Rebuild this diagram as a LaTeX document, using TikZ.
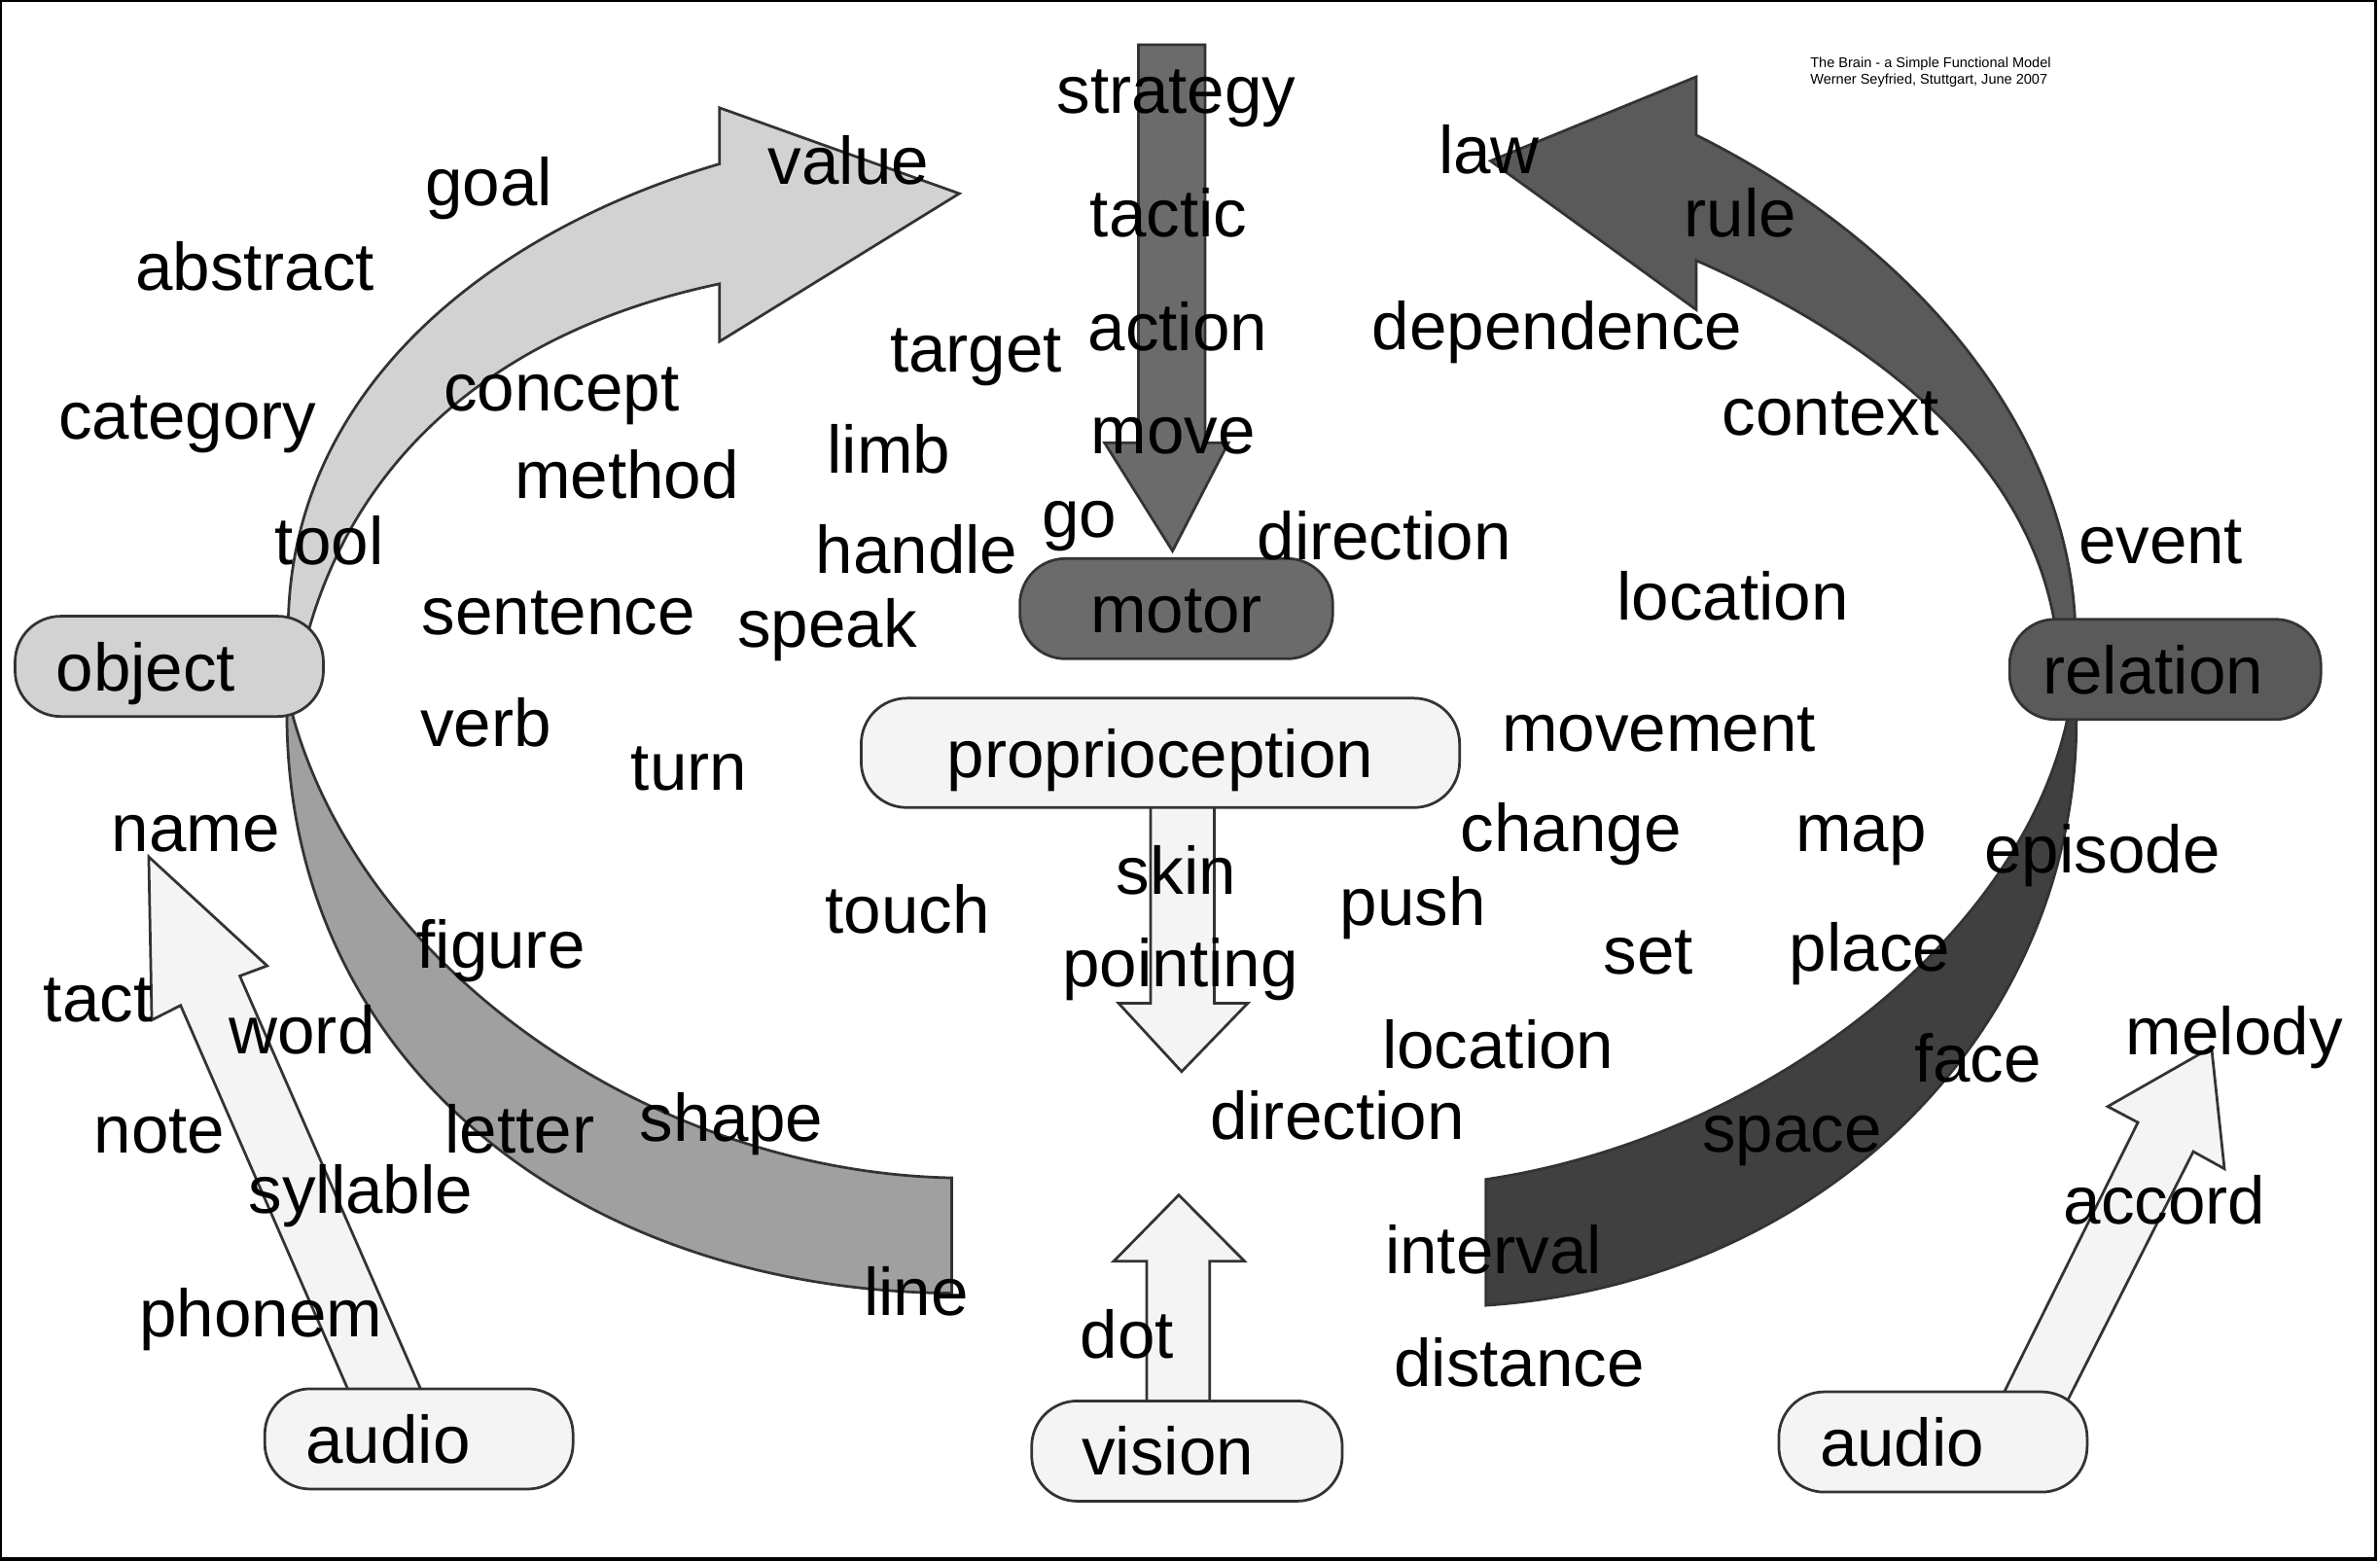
\documentclass[tikz,border=0pt]{standalone}
\usepackage{fontspec}
\setmainfont{Liberation Sans}
\definecolor{PaleGray}{HTML}{F4F4F4}
\definecolor{LightGray}{HTML}{D2D2D2}
\definecolor{MidGray}{HTML}{A0A0A0}
\definecolor{MotorGray}{HTML}{6B6B6B}
\definecolor{RelGray}{HTML}{5A5A5A}
\definecolor{DeepGray}{HTML}{404040}
\usepackage{tikz}
\usetikzlibrary{positioning, calc}
\newcommand{\wordfont}{\fontsize{12.6}{15}\selectfont}
\newcommand{\titlefont}{\fontsize{2.65}{3.1}\selectfont}

\begin{document}
\begin{tikzpicture}[x=0.01cm, y=-0.01cm,
    outline/.style={draw=black!80, line width=0.5pt},
    box/.style={outline, rounded corners=0.3cm, minimum height=0.66cm,
                text width=1.49cm, inner xsep=0.27cm, align=left,
                text height=0.32cm, text depth=0pt, font=\wordfont},
    cbox/.style={box, align=center},
    word/.style={anchor=base, inner sep=0pt, font=\wordfont}]

  \fill[white] (0,0) rectangle (1568,1029);
  \useasboundingbox (0,0) rectangle (1568,1029);

  \path[outline, fill=LightGray] (189,425) -- (190,406)
    .. controls (195,250) and (330,150) .. (474,108) -- (474,71) -- (632,127.5)
    -- (474,225) -- (474,187) .. controls (340,215) and (240,290) .. (204,413)
    -- (201,425) -- cycle;
  \path[outline, fill=MidGray] (189,460) -- (189,472)
    .. controls (190,700) and (380,850) .. (627,852) -- (627,776)
    .. controls (430,772) and (240,640) .. (193,472) -- (193,460) -- cycle;
  \path[outline, fill=RelGray] (1367,420) -- (1367,407)
    .. controls (1360,280) and (1260,160) .. (1117.5,89) -- (1117.5,50.6) -- (982,106)
    -- (1117.5,204) -- (1117.5,171.6) .. controls (1250,230) and (1335,310) .. (1353,407)
    -- (1353.5,420) -- cycle;
  \path[outline, fill=DeepGray] (1368,462) -- (1368,474)
    .. controls (1368,680) and (1200,845) .. (979,860) -- (979,777)
    .. controls (1160,750) and (1330,620) .. (1362,474) -- (1362,462) -- cycle;

  \path[outline, fill=MotorGray] (750,29.5) -- (794,29.5) -- (794,291.7) -- (809.3,291.7)
    -- (772.5,363) -- (727.7,291.7) -- (750,291.7) -- cycle;
  \path[outline, fill=PaleGray] (758,520) -- (800,520) -- (800,661) -- (822,661)
    -- (778.5,706) -- (737,661) -- (758,661) -- cycle;
  \path[outline, fill=PaleGray] (755.5,935) -- (797,935) -- (797,831) -- (820,831)
    -- (776.6,787.3) -- (733.7,831) -- (755.5,831) -- cycle;
  \path[outline, fill=PaleGray] (233,924) -- (119,662.4) -- (100,672) -- (98,564.5)
    -- (176,636.3) -- (158,643) -- (281,924) -- cycle;
  \path[outline, fill=PaleGray] (1316,926) -- (1408.5,739.5) -- (1388.6,729) -- (1457,690)
    -- (1465.5,770) -- (1445,758.7) -- (1360.5,926) -- cycle;

  \node[box, fill=LightGray] (object) at (111.5,439) {object};
  \node[cbox, fill=MotorGray, text width=1.52cm] (motor) at (775,401) {motor};
  \node[cbox, fill=PaleGray, text width=3.40cm, minimum height=0.72cm] (proprio) at (764.5,496) {proprioception};
  \node[box, fill=RelGray, inner xsep=0.22cm, text width=1.61cm] (relation) at (1426.5,441) {relation};
  \node[box, fill=PaleGray] (audioL) at (276,948) {audio};
  \node[box, fill=PaleGray, inner xsep=0.33cm, text width=1.385cm] (vision) at (782,956) {vision};
  \node[box, fill=PaleGray] (audioR) at (1273.5,950) {audio};

  \foreach \txt/\x/\y [count=\i] in {strategy/775/74.7, value/559/121.6, goal/322/135.7,
      law/981/114.4, rule/1146.6/156, tactic/770/156.3, abstract/168/191, target/643/245,
      action/776/231, dependence/1026/230.5, category/123.5/289, concept/370/270.7,
      context/1206/287, method/413/328.5, limb/585.5/312, move/773/298.7, go/711/354,
      handle/604/377.6, direction/912/368.5, tool/217/372, event/1423.6/371,
      sentence/368/418, speak/545/426.6, location/1141.6/408.6, verb/320/492,
      turn/454/520.8, movement/1093/495, name/129/561, change/1035/561, map/1226/561,
      episode/1385/575, skin/775/589.2, touch/598/615, push/931/610, figure/330/638,
      pointing/777.6/650.3, set/1086/642, place/1232/640, tact/64.5/673, word/199/694,
      location/987/703.7, melody/1472/694.7, face/1303/713, note/105/759.4,
      letter/342.5/759.4, shape/482/751.7, direction/881/750.4, space/1180.5/758.7,
      syllable/237.7/799.6, accord/1426/806.6, interval/984/839, line/603.6/866.9,
      dot/742.5/894.6, phonem/172/881, distance/1001/913.4}
    \node[word] (w\i) at (\x,\y) {\txt};

  \node[anchor=base west, inner sep=0pt, font=\titlefont] (title) at (1192,44.8) {The Brain - a Simple Functional Model};
  \node[anchor=base west, inner sep=0pt, font=\titlefont] (author) at (1192,55.6) {Werner Seyfried, Stuttgart, June 2007};

  \draw[line width=0.6pt] (0,0) rectangle (1565.3,1027.2);
\end{tikzpicture}
\end{document}
